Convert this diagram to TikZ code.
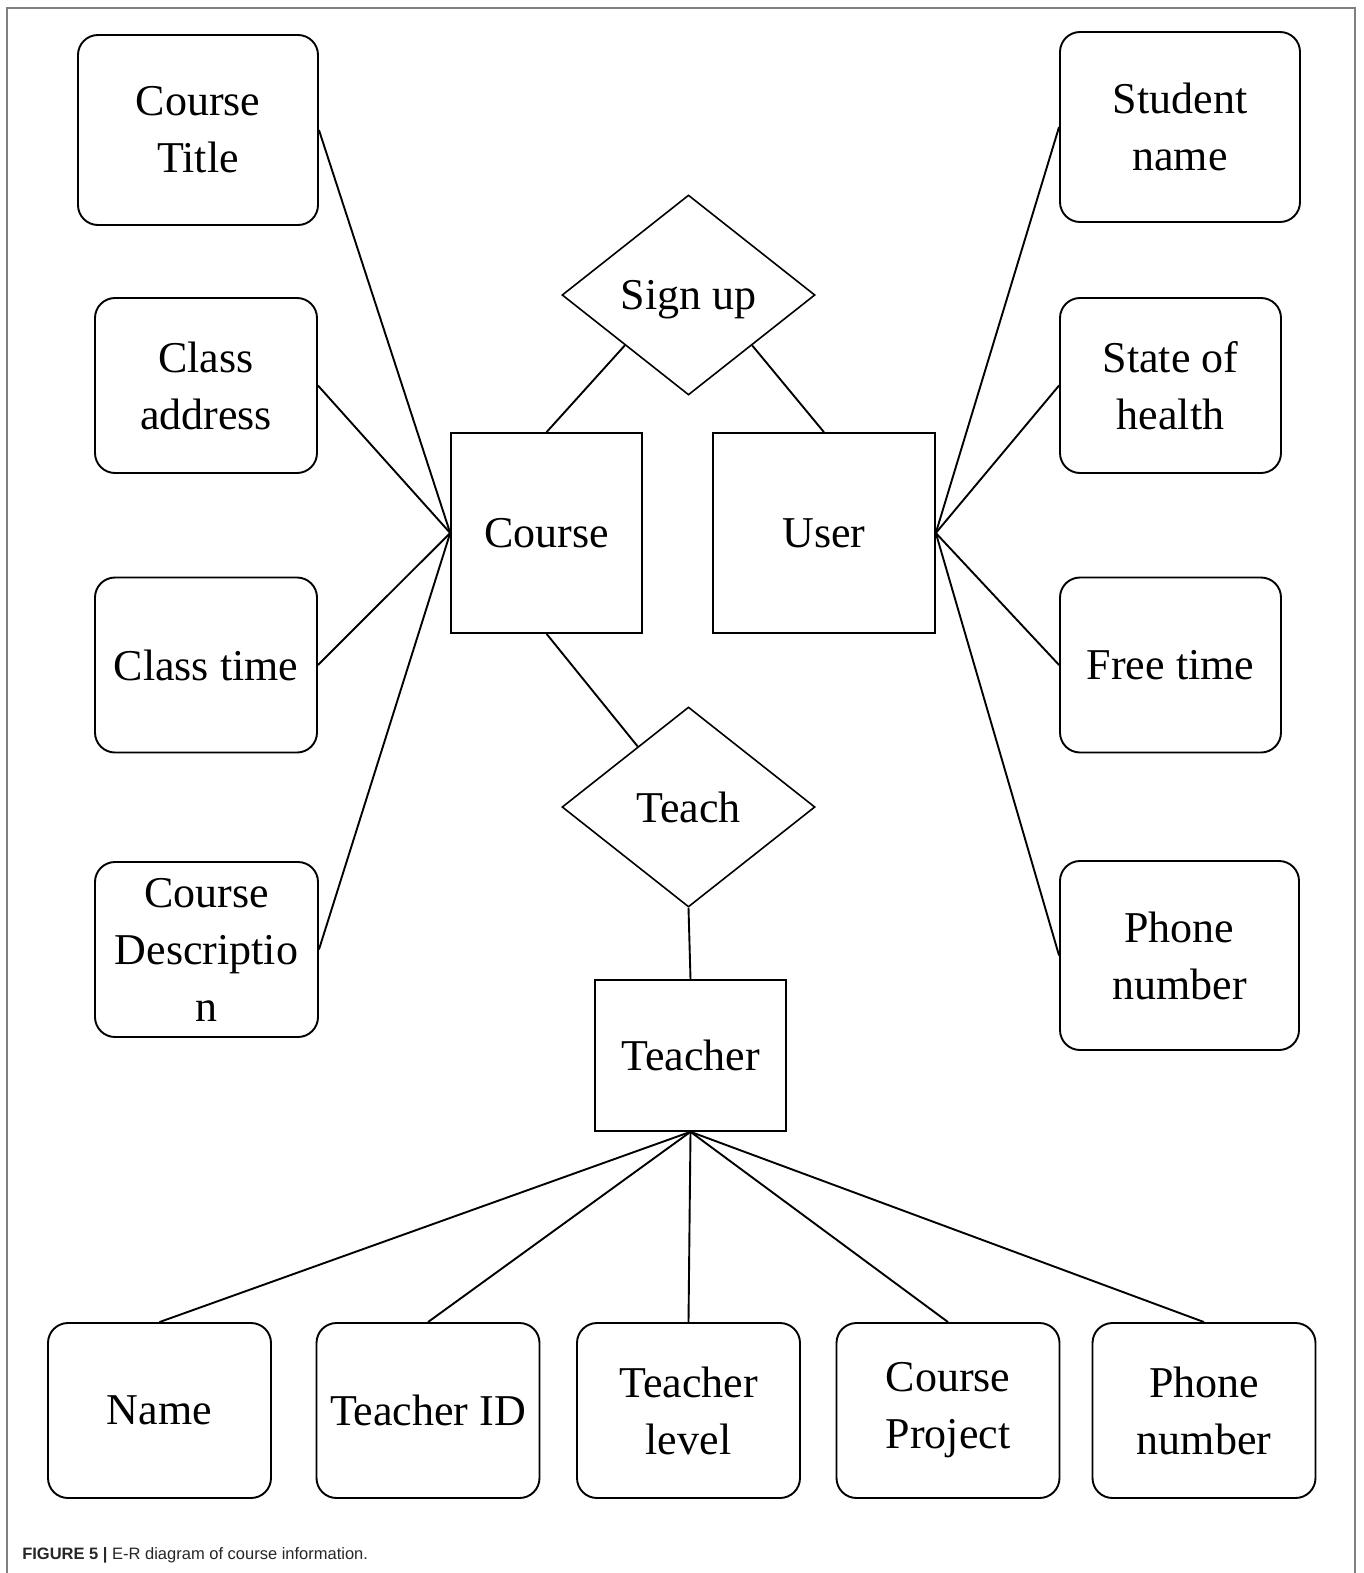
\documentclass[tikz,border=0pt]{standalone}
\usepackage{fontspec}
\setmainfont{Liberation Serif}
\newfontfamily\capfont{Liberation Sans}
\usetikzlibrary{shapes}

\begin{document}
\begin{tikzpicture}[x=1pt,y=-1pt,line width=1.9pt,font=\fontsize{44}{57}\selectfont]
  \tikzstyle{attr}=[rectangle,rounded corners=20pt,draw,align=center,
              inner sep=0pt,minimum width=222pt,minimum height=175pt]
  \tikzstyle{entity}=[rectangle,draw,line width=1.6pt,inner sep=0pt]
  \tikzstyle{relation}=[diamond,draw,line width=1.6pt,inner sep=0pt,text depth=0pt,
              minimum width=253pt,minimum height=200pt]
  \useasboundingbox (0,0) rectangle (1363,1573);
  \draw[black!50,line width=2pt] (7,1573) -- (7,8) -- (1355,8) -- (1355,1573);

    % entities and relations
    \node [entity,minimum width=191pt,minimum height=200pt] (course) at (546.5,533) {Course};
    \node [entity,minimum width=222pt,minimum height=200pt] (user) at (824,533) {User};
    \node [entity,minimum width=191pt,minimum height=151pt] (teacher) at (690.5,1055.5) {Teacher};
    \node [relation] (signup) at (688.5,295) {Sign up};
    \node [relation] (teach) at (688.5,807) {Teach};

    % course attributes
    \node [attr,minimum width=240pt,minimum height=190pt] (ctitle) at (198,130) {Course\\Title};
    \node [attr] (caddr) at (206,385.5) {Class\\address};
    \node [attr] (ctime) at (206,665) {Class time};
    \node [attr,minimum width=223pt] (cdesc) at (206.5,949.5) {Course\\Descriptio\\n};

    % user attributes
    \node [attr,minimum width=240pt,minimum height=190pt] (sname) at (1180,127) {Student\\name};
    \node [attr,minimum width=221pt] (health) at (1170.5,385.5) {State of\\health};
    \node [attr,minimum width=221pt] (ftime) at (1170.5,665) {Free time};
    \node [attr,minimum width=239pt,minimum height=189pt] (uphone) at (1179.5,955.5) {Phone\\number};

    % teacher attributes
    \node [attr,minimum width=223pt] (tname) at (159.5,1410.5) {Name};
    \node [attr,minimum width=223pt] (tid) at (428,1410.5) {Teacher ID};
    \node [attr,minimum width=223pt] (tlevel) at (688.5,1410.5) {Teacher\\level};
    \node [attr,minimum width=223pt] (tproj) at (948,1410.5) {Course\\Project};
    \node [attr,minimum width=223pt] (tphone) at (1204,1410.5) {Phone\\number};

    \draw (signup.south west) -- (course.north);
    \draw (signup.south east) -- (user.north);
    \draw (course.south) -- (teach.130);
    \draw (teach.south) -- (teacher.north);

    \foreach \a in {ctitle,caddr,ctime,cdesc}
      \draw (course.west) -- (\a.east);
    \foreach \a in {sname,health,ftime,uphone}
      \draw (user.east) -- (\a.west);
    \foreach \a in {tname,tid,tlevel,tproj,tphone}
      \draw (teacher.south) -- (\a.north);

  \node [anchor=base west,text=black!85,font=\capfont\fontsize{16.5}{19}\selectfont] (caption) at (18,1559)
    {\textbf{FIGURE 5 |} E-R diagram of course information.};
\end{tikzpicture}
\end{document}
